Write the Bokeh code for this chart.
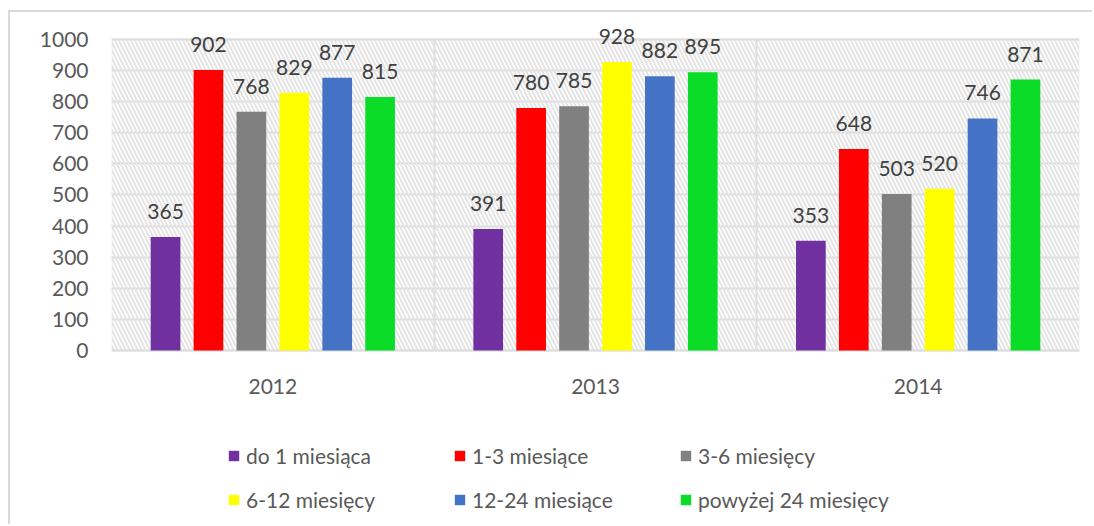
from bokeh.plotting import figure
from bokeh.models import (ColumnDataSource, FixedTicker, BoxAnnotation, Legend, LegendItem,
                          LabelSet, Range1d, Grid)
from bokeh.core.properties import value
from bokeh.embed import file_html
from bokeh.resources import INLINE

years = ["2012", "2013", "2014"]
series = ["do 1 miesiąca", "1-3 miesiące", "3-6 miesięcy",
          "6-12 miesięcy", "12-24 miesiące", "powyżej 24 miesięcy"]
do_1 = [365, 391, 353]
m_1_3 = [902, 780, 648]
m_3_6 = [768, 785, 503]
m_6_12 = [829, 928, 520]
m_12_24 = [877, 882, 746]
m_24_plus = [815, 895, 871]
values = [do_1, m_1_3, m_3_6, m_6_12, m_12_24, m_24_plus]
colors = ["#7030A0", "#FF0000", "#808080", "#FFFF00", "#4472C4", "#0ADC28"]
y_ticks = list(range(0, 1001, 100))

FONT = "Lato"
GRID = "#D9D9D9"
TXT = "#595959"
STEP = 0.133
BAR_W = 0.092
Y_TOP = 1086.8     # room above the plot area (layout only)
Y_BOTTOM = -565.9  # room below the plot area for labels and legend (layout only)

p = figure(width=1084, height=514, output_backend="svg", toolbar_location=None,
           x_range=Range1d(0, len(years)), y_range=Range1d(Y_BOTTOM, Y_TOP),
           min_border_left=101, min_border_right=15, min_border_top=0, min_border_bottom=0)
p.styles = {"margin-left": "8px", "margin-top": "10px",
            "border-left": "2px solid #D9D9D9", "border-top": "2px solid #D9D9D9"}

p.outline_line_color = None
p.background_fill_color = "white"

# hatched plot area with border
p.add_layout(BoxAnnotation(left=0, right=len(years), bottom=0, top=max(y_ticks),
                           fill_color=None, line_color=GRID, line_width=2,
                           hatch_pattern="\\", hatch_color="#E4E4E4", hatch_scale=8,
                           hatch_weight=2, level="underlay"))

centers = [i + 0.5 for i in range(len(years))]
items = []
for j, (name, vals, col) in enumerate(zip(series, values, colors)):
    xs = [c + (j - 2.5) * STEP for c in centers]
    src = ColumnDataSource(dict(x=xs, top=vals, lab=[str(v) for v in vals]))
    r = p.vbar(x="x", top="top", width=BAR_W, source=src, fill_color=col, line_color=None)
    items.append(LegendItem(label=name, renderers=[r]))
    p.add_layout(LabelSet(x="x", y="top", text="lab", source=src, text_align="center",
                          text_baseline="alphabetic", y_offset=18, text_font=value(FONT),
                          text_font_size="21px", text_color="#404040"))

# axes
p.yaxis.ticker = FixedTicker(ticks=y_ticks)
p.yaxis.axis_line_color = None
p.yaxis.major_tick_line_color = None
p.yaxis.minor_tick_line_color = None
p.yaxis.major_tick_out = 0
p.yaxis.major_tick_in = 0
p.yaxis.minor_tick_out = 0
p.yaxis.major_label_standoff = 23
p.yaxis.major_label_text_font = FONT
p.yaxis.major_label_text_font_size = "21px"
p.yaxis.major_label_text_color = TXT

p.xaxis.fixed_location = 0
p.xaxis.ticker = FixedTicker(ticks=centers)
p.xaxis.major_label_overrides = {c: y for c, y in zip(centers, years)}
p.xaxis.axis_line_color = None
p.xaxis.major_tick_line_color = None
p.xaxis.minor_tick_line_color = None
p.xaxis.major_tick_out = 0
p.xaxis.major_tick_in = 0
p.xaxis.minor_tick_out = 0
p.xaxis.major_label_standoff = 28
p.xaxis.major_label_text_font = FONT
p.xaxis.major_label_text_font_size = "21px"
p.xaxis.major_label_text_color = TXT

p.ygrid.ticker = FixedTicker(ticks=y_ticks)
p.ygrid.grid_line_color = GRID
p.ygrid.grid_line_width = 2

boundaries = list(range(1, len(years)))
if "cross_bounds" in Grid.properties():
    p.xgrid.ticker = FixedTicker(ticks=boundaries)
    p.xgrid.cross_bounds = (0, max(y_ticks))
    p.xgrid.grid_line_color = GRID
    p.xgrid.grid_line_width = 2
else:
    p.xgrid.grid_line_color = None
    p.segment(x0=boundaries, y0=[0] * len(boundaries), x1=boundaries,
              y1=[max(y_ticks)] * len(boundaries), line_color=GRID, line_width=2,
              level="underlay")

legend = Legend(items=items, ncols=3, location=(116, 14), orientation="horizontal",
                glyph_width=13, glyph_height=13, label_standoff=6, label_width=188,
                label_height=25, spacing=19, padding=0, margin=0, border_line_color=None,
                background_fill_alpha=0, label_text_font=FONT, label_text_font_size="21px",
                label_text_color=TXT)
p.add_layout(legend, "center")

open("out.html", "w").write(file_html(p, INLINE))
